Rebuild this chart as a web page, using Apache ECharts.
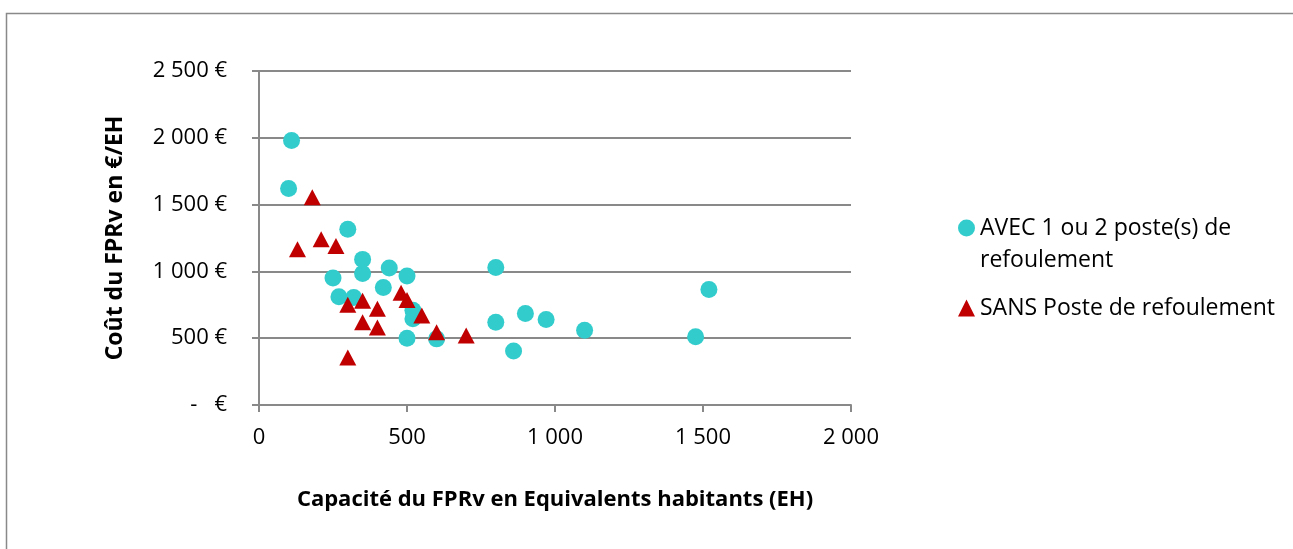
<!DOCTYPE html>
<html>
<head>
<meta charset="utf-8">
<script src="https://cdn.jsdelivr.net/npm/echarts@6/dist/echarts.min.js"></script>
<style>
  html, body { margin: 0; padding: 0; background: #ffffff; }
  #chart { width: 1293px; height: 549px; }
</style>
</head>
<body>
<div id="chart"></div>
<script>
// Capacité (EH) et coût (€/EH) des FPRv
const avecCapacite = [110, 100, 300, 350, 350, 440, 500, 250, 420, 270, 320, 520, 520, 500, 600, 800, 800, 900, 970, 1100, 1475, 860, 1520];
const avecCout     = [1980, 1620, 1315, 1090, 985, 1025, 965, 950, 880, 810, 805, 710, 645, 500, 495, 1030, 620, 685, 640, 560, 510, 405, 865];

const sansCapacite = [180, 130, 210, 260, 300, 350, 400, 480, 500, 550, 350, 400, 600, 700, 300];
const sansCout     = [1555, 1165, 1240, 1190, 750, 780, 720, 840, 785, 670, 620, 580, 545, 520, 355];

const seriesNames = ['AVEC 1 ou 2 poste(s) de refoulement', 'SANS Poste de refoulement'];
const xTitle = 'Capacité du FPRv en Equivalents habitants (EH)';
const yTitle = 'Coût du FPRv en €/EH';

const FONT = "'Open Sans', sans-serif";

function pairs(xs, ys) { return xs.map((x, i) => [x, ys[i]]); }
function groupThousands(v) {
  return String(v).replace(/\B(?=(\d{3})+(?!\d))/g, ' ');
}

const chart = echarts.init(document.getElementById('chart'), null, { renderer: 'canvas' });

chart.setOption({
  animation: false,
  backgroundColor: '#ffffff',
  textStyle: { fontFamily: FONT },
  graphic: [{
    type: 'rect',
    left: 4, top: 11,
    shape: { width: 1300, height: 560 },
    style: { fill: 'none', stroke: '#898989', lineWidth: 1.5 },
    silent: true
  }],
  grid: { left: 259, top: 71, width: 592, height: 334, containLabel: false },
  legend: {
    orient: 'vertical',
    left: 958, top: 180,
    padding: 0,
    itemWidth: 17, itemHeight: 17,
    itemGap: 16,
    textStyle: { fontFamily: FONT, fontSize: 23, color: '#000', lineHeight: 32 },
    // the blank first line keeps the icon level with "AVEC ..."
    formatter: function (name) {
      return name === seriesNames[0] ? ' \nAVEC 1 ou 2 poste(s) de\nrefoulement' : name;
    },
    data: [
      { name: seriesNames[0], icon: 'circle' },
      { name: seriesNames[1], icon: 'triangle' }
    ]
  },
  xAxis: {
    type: 'value', min: 0, max: 2000, interval: 500,
    name: xTitle, nameLocation: 'middle', nameGap: 84,
    nameTextStyle: { fontFamily: FONT, fontSize: 22, fontWeight: 'bold', color: '#000' },
    axisLine: { show: true, lineStyle: { color: '#898989', width: 2 } },
    axisTick: { show: true, length: 7, lineStyle: { color: '#898989', width: 2 } },
    axisLabel: { margin: 22, fontSize: 22, color: '#000', fontFamily: FONT,
      formatter: v => groupThousands(v) },
    splitLine: { show: false }
  },
  yAxis: {
    type: 'value', min: 0, max: 2500, interval: 500,
    name: yTitle, nameLocation: 'middle', nameGap: 132,
    nameTextStyle: { fontFamily: FONT, fontSize: 23, fontWeight: 'bold', color: '#000' },
    axisLine: { show: true, lineStyle: { color: '#898989', width: 2 } },
    axisTick: { show: true, length: 7, lineStyle: { color: '#898989', width: 2 } },
    axisLabel: { margin: 32, fontSize: 22, color: '#000', fontFamily: FONT,
      formatter: v => v === 0 ? '-   €' : groupThousands(v) + ' €' },
    splitLine: { show: true, lineStyle: { color: '#898989', width: 2 } }
  },
  series: [
    {
      name: seriesNames[0], type: 'scatter',
      symbol: 'circle', symbolSize: 17,
      itemStyle: { color: '#33CCCC', opacity: 1 },
      data: pairs(avecCapacite, avecCout)
    },
    {
      name: seriesNames[1], type: 'scatter',
      symbol: 'triangle', symbolSize: [17, 16],
      itemStyle: { color: '#C00000', opacity: 1 },
      data: pairs(sansCapacite, sansCout)
    }
  ]
});
</script>
</body>
</html>
